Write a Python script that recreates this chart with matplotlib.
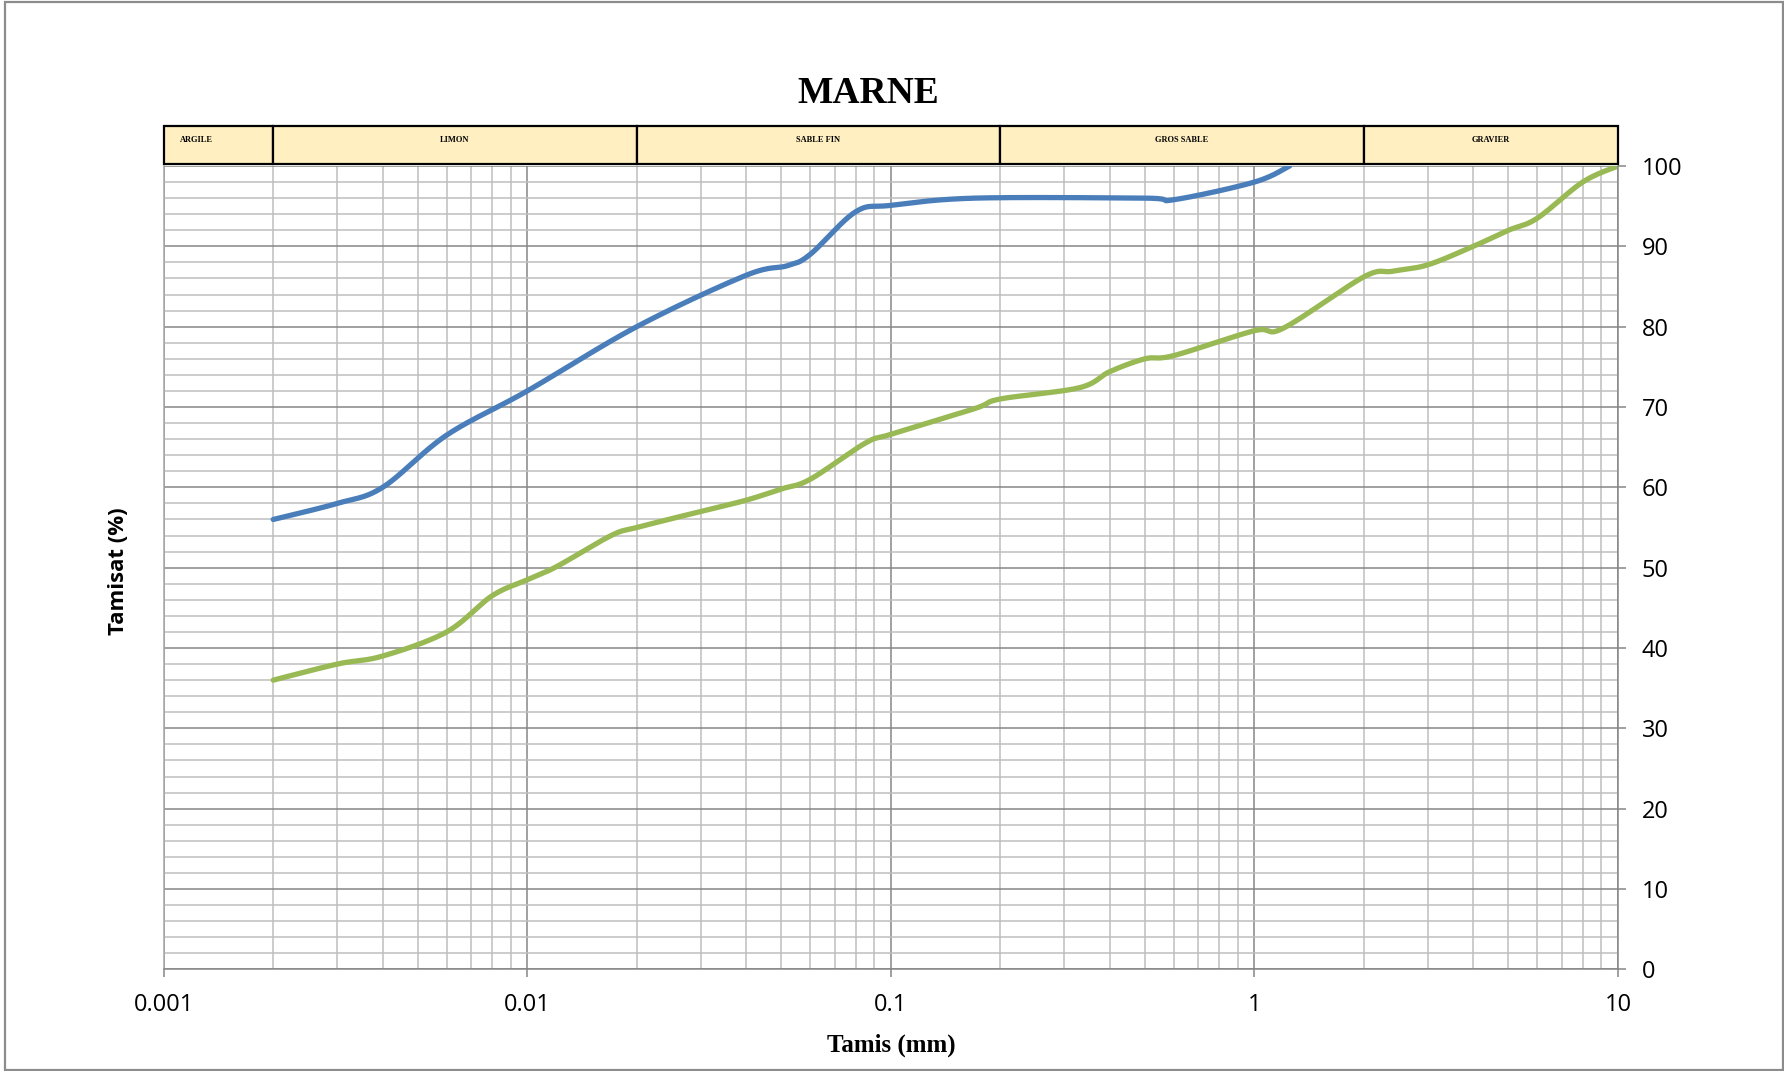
#!/usr/bin/env python3

import numpy as np
import matplotlib
matplotlib.use('Agg')
import matplotlib.pyplot as plt
from matplotlib.patches import Rectangle
from matplotlib.ticker import MultipleLocator, LogLocator, NullFormatter

title = 'MARNE'
x_label = 'Tamis (mm)'
y_label = 'Tamisat (%)'

# grain size (mm) / passing (%) for the two curves
blue_d = [0.002, 0.003, 0.004, 0.006, 0.01, 0.02, 0.04, 0.052, 0.06, 0.08, 0.1, 0.17, 0.5, 0.6, 1.0, 1.25]
blue_p = [56, 58, 60, 66.5, 72, 80, 86.4, 87.6, 89, 94.3, 95.1, 96, 96, 95.8, 98, 100]

green_d = [0.002, 0.003, 0.004, 0.006, 0.008, 0.01, 0.012, 0.017, 0.02, 0.03, 0.04, 0.05, 0.06,
           0.085, 0.1, 0.17, 0.2, 0.33, 0.4, 0.5, 0.6, 1.0, 1.2, 2.0, 2.4, 3.0, 4.0, 5.0, 6.0, 8.0, 10.0]
green_p = [36, 38, 39, 42, 46.5, 48.5, 50.1, 54, 55, 57, 58.4, 59.8, 61,
           65.5, 66.6, 69.8, 71, 72.4, 74.4, 76, 76.4, 79.5, 79.8, 86.2, 86.9, 87.7, 90, 92, 93.5, 98, 100]

# soil classes drawn in the band above the plot
class_names = ['ARGILE', 'LIMON', 'SABLE FIN', 'GROS SABLE', 'GRAVIER']
class_bounds = [0.001, 0.002, 0.02, 0.2, 2, 10]
class_label_x = [0.00123, 0.00632, 0.0632, 0.632, 4.47]

x_ticks = [0.001, 0.01, 0.1, 1, 10]
x_tick_labels = ['0.001', '0.01', '0.1', '1', '10']
y_ticks = list(range(0, 101, 10))


def smooth(d, p, n=40):
    # Catmull-Rom through the points, in log10(d) space (Excel "smoothed line")
    pts = np.column_stack([np.log10(d), p])
    pts = np.vstack([pts[0], pts, pts[-1]])
    out = []
    t = np.linspace(0, 1, n)[:, None]
    for i in range(1, len(pts) - 2):
        p0, p1, p2, p3 = pts[i - 1], pts[i], pts[i + 1], pts[i + 2]
        c1 = p1 + (p2 - p0) / 6
        c2 = p2 - (p3 - p1) / 6
        seg = ((1 - t) ** 3) * p1 + 3 * ((1 - t) ** 2) * t * c1 + 3 * (1 - t) * t ** 2 * c2 + t ** 3 * p2
        out.append(seg if i == 1 else seg[1:])
    out = np.vstack(out)
    return 10 ** out[:, 0], out[:, 1]


fig = plt.figure(figsize=(17.84, 10.71), dpi=100)
fig.patches.append(Rectangle((0.003, 0.001), 0.9965, 0.9975, transform=fig.transFigure,
                             fill=False, edgecolor='#8C8C8C', lw=1.6))

ax = fig.add_axes([0.0918, 0.0949, 0.8151, 0.7501])
ax.set_xscale('log')
ax.set_xlim(0.001, 10)
ax.set_ylim(0, 100)

ax.xaxis.set_minor_locator(LogLocator(base=10, subs=np.arange(2, 10)))
ax.xaxis.set_minor_formatter(NullFormatter())
ax.set_xticks(x_ticks, labels=x_tick_labels)
ax.yaxis.tick_right()
ax.set_yticks(y_ticks)
ax.yaxis.set_minor_locator(MultipleLocator(2))

ax.grid(which='minor', color='#BEBEBE', lw=1.1)
ax.grid(which='major', color='#868686', lw=1.1)
ax.set_axisbelow(True)

ax.tick_params(which='major', length=6, width=1.1, color='#868686', labelsize=17)
ax.tick_params(axis='x', pad=11)
ax.tick_params(axis='y', pad=11)
ax.tick_params(which='minor', length=0)
for lab in ax.get_xticklabels() + ax.get_yticklabels():
    lab.set_family('Open Sans')

ax.spines['top'].set_visible(False)
ax.spines['left'].set_color('#A6A6A6')
ax.spines['bottom'].set_color('#868686')
ax.spines['right'].set_color('#868686')
for s in ax.spines.values():
    s.set_linewidth(1.1)

bx, by = smooth(blue_d, blue_p)
gx, gy = smooth(green_d, green_p)
ax.plot(bx, by, color='#4A7EBB', lw=3.8, solid_capstyle='round')
ax.plot(gx, gy, color='#98B954', lw=3.8, solid_capstyle='round')

# class band
hdr = fig.add_axes([0.0918, 0.8466, 0.8151, 0.036])
hdr.set_xscale('log')
hdr.set_xlim(0.001, 10)
hdr.set_ylim(0, 1)
hdr.axis('off')
for name, lo, hi, lx in zip(class_names, class_bounds[:-1], class_bounds[1:], class_label_x):
    hdr.add_patch(Rectangle((lo, 0), hi - lo, 1, facecolor='#FFEFC1', edgecolor='black',
                            lw=1.6, clip_on=False))
    hdr.text(lx, 0.64, name, ha='center', va='center', fontsize=6,
             family='Liberation Serif', weight='bold')

fig.text(0.4866, 0.9035, title, ha='center', va='baseline', fontsize=27,
         family='Liberation Serif', weight='bold')
fig.text(0.4994, 0.0182, x_label, ha='center', va='baseline', fontsize=18,
         family='Liberation Serif', weight='bold')
fig.text(0.0663, 0.467, y_label, ha='center', va='center', rotation=90, fontsize=16,
         family='Open Sans', weight='bold')

plt.savefig('out.png', dpi=100)
plt.close()
